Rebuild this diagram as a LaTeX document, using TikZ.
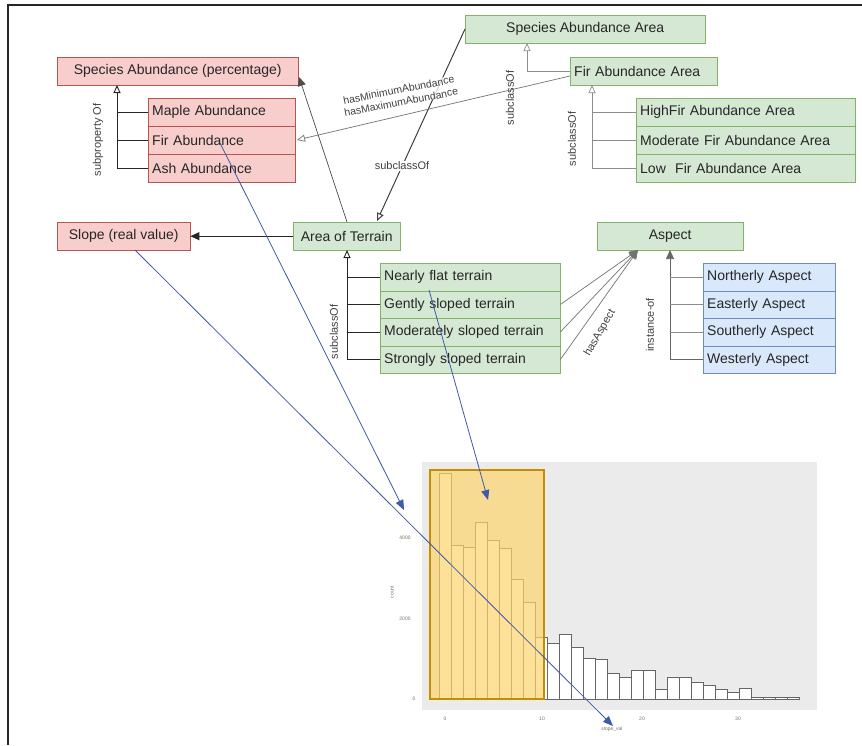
\documentclass[tikz,border=0pt]{standalone}
\usepackage{fontspec}
\setmainfont{Liberation Sans}
\usetikzlibrary{arrows.meta,calc}
\definecolor{pinkf}{HTML}{F8CECC}
\definecolor{pinkd}{HTML}{B85450}
\definecolor{greenf}{HTML}{D5E8D4}
\definecolor{greend}{HTML}{82B366}
\definecolor{bluef}{HTML}{DAE8FC}
\definecolor{blued}{HTML}{6C8EBF}
\definecolor{linkblue}{HTML}{3F5AA8}
\definecolor{panelgrey}{HTML}{EBEBEB}
\definecolor{hlfill}{HTML}{FDD56E}
\definecolor{hldraw}{HTML}{C48E00}
\begin{document}
\begin{tikzpicture}[x=1pt,y=-1pt,
  box/.style={draw, anchor=north west, minimum height=28pt, inner xsep=4pt, inner ysep=0pt,
    font=\fontsize{14}{15}\selectfont, text=black!85},
  pinkbox/.style={box, fill=pinkf, draw=pinkd},
  greenbox/.style={box, fill=greenf, draw=greend},
  bluebox/.style={box, fill=bluef, draw=blued},
  lbox/.style={text width=#1, align=left},
  lbl/.style={font=\fontsize{11}{12}\selectfont, text=black!75, inner sep=1pt},
  tree/.style={black!85, line width=0.9pt},
  ltree/.style={black!45, line width=0.7pt},
  opentip/.style={-{Triangle[open,length=8pt,width=7pt]}},
  filltip/.style={-{Triangle[length=9pt,width=8pt]}},
  link/.style={linkblue, line width=0.8pt, -{Triangle[length=10pt,width=8pt]}},
  bar/.style={draw=black!60, fill=white, line width=0.5pt},
  tick/.style={font=\fontsize{5}{6}\selectfont, text=black!55}
]
\useasboundingbox (0,0) rectangle (862,745);
\fill[white] (0,0) rectangle (862,745);
\draw[line width=1.3pt, black!85] (8,745) -- (8,5) -- (862,5);

% ---------- histogram ----------
\fill[panelgrey] (422,462) rectangle (817,710);
\foreach \t [count=\i from 0] in {473,545,547,522,540,548,579,602,637,643,634,647,658,659,673,677,670,670,689,677,677,682,685,689,692,688,697,697,697,697}
  {\draw[bar] ({439+\i*12},699) rectangle ({439+(\i+1)*12},\t);}
\filldraw[fill=hlfill, fill opacity=0.7, draw=hldraw, line width=2.5pt] (430,470) rectangle (544,699);
\node[tick] (y0) at (414,699) {0};
\node[tick] (y1) at (405,619) {2000};
\node[tick] (y2) at (405,538) {4000};
\node[tick, rotate=90] (ylab) at (392,592) {count};
\node[tick] (x0) at (445,719) {0};
\node[tick] (x1) at (542,719) {10};
\node[tick] (x2) at (642,719) {20};
\node[tick] (x3) at (738,719) {30};
\node[tick] (xlab) at (612,729) {slope\_val};

% ---------- pink nodes ----------
\node[pinkbox, minimum width=241pt] (sap) at (57,57) {Species Abundance (percentage)};
\node[pinkbox, lbox=139pt] (maple) at (148,98) {Maple Abundance};
\node[pinkbox, lbox=139pt] (fir) at (148,126) {Fir Abundance};
\node[pinkbox, lbox=139pt] (ash) at (148,154) {Ash Abundance};
\node[pinkbox, minimum width=133pt] (slope) at (57,222) {Slope (real value)};

% ---------- green nodes ----------
\node[greenbox, minimum width=240pt] (saa) at (465,15) {Species Abundance Area};
\node[greenbox, lbox=139pt] (faa) at (570,57) {Fir Abundance Area};
\node[greenbox, lbox=211pt] (high) at (636,98) {HighFir Abundance Area};
\node[greenbox, lbox=211pt] (mod) at (636,126) {Moderate Fir Abundance Area};
\node[greenbox, lbox=211pt] (low) at (636,154) {Low\ \ Fir Abundance Area};
\node[greenbox, minimum width=107pt] (aot) at (293,222) {Area of Terrain};
\node[greenbox, lbox=172pt, minimum height=27.5pt] (nft) at (380,263) {Nearly flat terrain};
\node[greenbox, lbox=172pt, minimum height=27.5pt] (gst) at (380,290.5) {Gently sloped terrain};
\node[greenbox, lbox=172pt, minimum height=27.5pt] (mst) at (380,318) {Moderately sloped terrain};
\node[greenbox, lbox=172pt, minimum height=27.5pt] (sst) at (380,345.5) {Strongly sloped terrain};
\node[greenbox, minimum width=146pt] (asp) at (597,222) {Aspect};

% ---------- blue nodes ----------
\node[bluebox, lbox=124pt, minimum height=27.5pt] (north) at (703,263) {Northerly Aspect};
\node[bluebox, lbox=124pt, minimum height=27.5pt] (east) at (703,290.5) {Easterly Aspect};
\node[bluebox, lbox=124pt, minimum height=27.5pt] (south) at (703,318) {Southerly Aspect};
\node[bluebox, lbox=124pt, minimum height=27.5pt] (west) at (703,345.5) {Westerly Aspect};

% ---------- trees ----------
\coordinate (t1) at (117,85);
\draw[tree, opentip] (ash.west) -| (t1);
\draw[tree] (maple.west) -- (maple.west -| t1);
\draw[tree] (fir.west) -- (fir.west -| t1);
\node[lbl, rotate=90] (lsp) at (98,140) {subproperty Of};

\coordinate (t2) at (527,43);
\draw[ltree, opentip] (faa.west) -| (t2);
\node[lbl, rotate=90] (lsc1) at (510,98) {subclassOf};

\coordinate (t3) at (592,85);
\draw[ltree, opentip] (low.west) -| (t3);
\draw[ltree] (high.west) -- (high.west -| t3);
\draw[ltree] (mod.west) -- (mod.west -| t3);
\node[lbl, rotate=90] (lsc2) at (572,139) {subclassOf};

\coordinate (t4) at (347,250);
\draw[tree, opentip] (sst.west) -| (t4);
\draw[tree] (nft.west) -- (nft.west -| t4);
\draw[tree] (gst.west) -- (gst.west -| t4);
\draw[tree] (mst.west) -- (mst.west -| t4);
\node[lbl, rotate=90] (lsc3) at (334,332) {subclassOf};

\coordinate (t5) at (670,250);
\draw[ltree, filltip, black!60] (west.west) -| (t5);
\draw[ltree] (north.west) -- (north.west -| t5);
\draw[ltree] (east.west) -- (east.west -| t5);
\draw[ltree] (south.west) -- (south.west -| t5);
\node[lbl, rotate=90] (lio) at (650,325) {instance-of};

% ---------- hasAspect ----------
\coordinate (ha) at (638,250);
\draw[ltree, filltip, black!55] (gst.east) -- (ha);
\draw[ltree, filltip, black!55] (mst.east) -- (ha);
\draw[ltree, filltip, black!55] (sst.east) -- (ha);
\node[lbl, rotate=60] (lha) at (600,333) {hasAspect};

% ---------- other links ----------
\draw[tree, filltip] (aot.west) -- (slope.east);
\coordinate (aot1) at (347,222);
\coordinate (sap1) at (299,77);
\draw[black!60, line width=0.7pt, filltip, black!70] (aot1) -- (sap1);
\coordinate (saa1) at (465,29);
\coordinate (aot2) at (377,221);
\draw[black!75, line width=1pt, opentip] (saa1) -- (aot2);
\node[lbl, fill=white] (lsc4) at (402,166) {subclassOf};
\coordinate (faa1) at (570,76);
\coordinate (fir1) at (297,140);
\draw[black!55, line width=0.7pt, opentip] (faa1) -- (fir1);
\node[lbl, rotate=11, align=center, fill=white, fill opacity=0.8, text opacity=1, inner sep=0pt,
  font=\fontsize{10.5}{12.5}\selectfont] (lmm) at (400,96) {hasMinimumAbundance\\hasMaximumAbundance};

% ---------- blue links ----------
\coordinate (fa1) at (220,143);
\coordinate (h1) at (404,510);
\coordinate (nf1) at (429,290);
\coordinate (h2) at (488,500);
\coordinate (sl1) at (135,250);
\coordinate (h3) at (613,726);
\draw[link] (fa1) -- (h1);
\draw[link] (nf1) -- (h2);
\draw[link] (sl1) -- (h3);
\end{tikzpicture}
\end{document}
